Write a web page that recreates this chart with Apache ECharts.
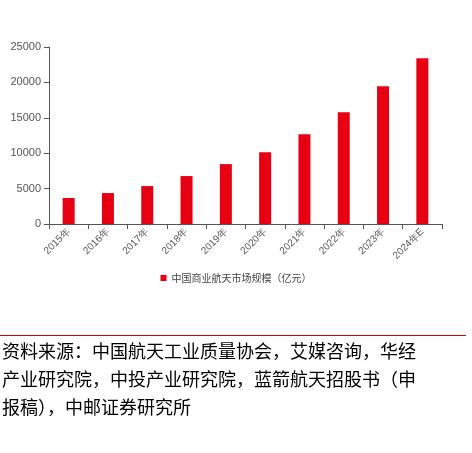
<!DOCTYPE html><html><head><meta charset="utf-8"><script src="https://cdn.jsdelivr.net/npm/echarts@6/dist/echarts.min.js"></script></head><body style="margin:0;background:#fff"><div id="c" style="width:472px;height:453px"></div><script>
const categories=['2015年','2016年','2017年','2018年','2019年','2020年','2021年','2022年','2023年','2024年E'];
const values=[3670,4370,5360,6770,8460,10150,12690,15790,19460,23400];
const seriesName='中国商业航天市场规模（亿元）';
const sourceLines=['资料来源：中国航天工业质量协会，艾媒咨询，华经','产业研究院，中投产业研究院，蓝箭航天招股书（申','报稿），中邮证券研究所'];
const c=echarts.init(document.getElementById('c'));
c.setOption({animation:false,
grid:{left:49,right:30,top:47,height:177},
legend:{top:268,left:'center',itemWidth:6,itemHeight:6,icon:'rect',textStyle:{fontSize:10,color:'#444',fontFamily:'Noto Sans CJK SC'},data:[seriesName]},
xAxis:{type:'category',data:categories,axisLine:{lineStyle:{color:'#555'}},axisTick:{show:true,lineStyle:{color:'#555'}},axisLabel:{rotate:45,fontSize:10,color:'#555',interval:0,margin:6}},
yAxis:{type:'value',min:0,max:25000,interval:5000,splitLine:{show:false},axisLine:{show:true,lineStyle:{color:'#555'}},axisTick:{show:true,lineStyle:{color:'#555'}},axisLabel:{fontSize:11,color:'#555',formatter:v=>String(v)}},
series:[{name:seriesName,type:'bar',data:values,barWidth:12,itemStyle:{color:'#e60012'}}],
graphic:[{type:'rect',shape:{x:0,y:335,width:466,height:1},style:{fill:'#d00000'}},
...sourceLines.map((t,i)=>({type:'text',left:2,top:342+i*28,style:{text:t,fontSize:18,fill:'#000',fontFamily:'Noto Sans CJK SC'}}))]
});
</script></body></html>
